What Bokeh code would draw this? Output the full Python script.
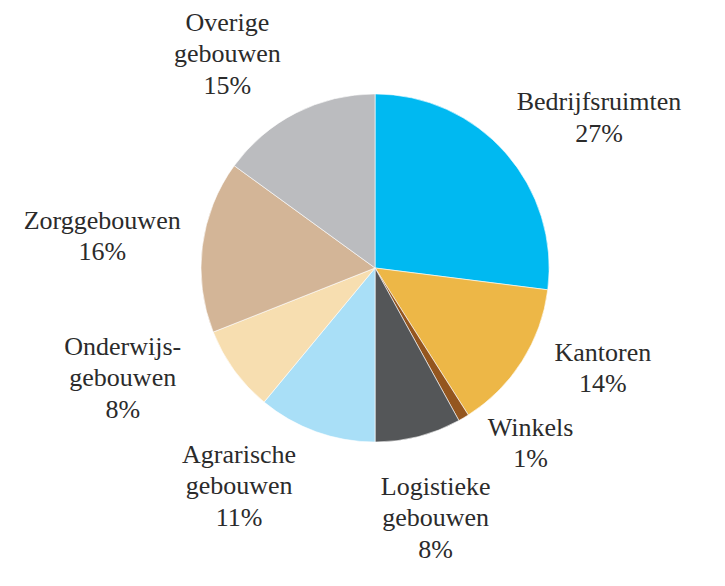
import math
from bokeh.plotting import figure
from bokeh.models import ColumnDataSource, Range1d
from bokeh.core.properties import value
from bokeh.embed import file_html
from bokeh.resources import INLINE

categories = ["Bedrijfsruimten", "Kantoren", "Winkels", "Logistieke\ngebouwen",
              "Agrarische\ngebouwen", "Onderwijs-\ngebouwen", "Zorggebouwen", "Overige\ngebouwen"]
shares = [27, 14, 1, 8, 11, 8, 16, 15]
colors = ["#00B9F1", "#EDB747", "#94561F", "#545658",
          "#A9DFF7", "#F7DEB0", "#D3B597", "#BBBCBF"]

# layout: label anchors (block centres) in reference-frame pixels
label_x = [612, 616, 542, 445, 244, 125, 104, 232]
label_y = [120, 378, 455, 532, 499, 388, 242, 55]
LINE = 32.5

# layout: reference frame, pie centre and radius
FW, FH = 725, 586
CX, CY, R = 383, 275, 178
W, H = 709, 570

total = sum(shares)
starts, ends = [], []
cum = 0
for s in shares:
    starts.append(math.pi / 2 - 2 * math.pi * cum / total)
    cum += s
    ends.append(math.pi / 2 - 2 * math.pi * cum / total)

tx, ty, tt = [], [], []
for c, s, lx, ly in zip(categories, shares, label_x, label_y):
    lines = c.split("\n") + [f"{s}%"]
    n = len(lines)
    for i, ln in enumerate(lines):
        tx.append(lx)
        ty.append(-(ly + (i - (n - 1) / 2) * LINE))
        tt.append(ln)

src = ColumnDataSource(dict(start=starts, end=ends, color=colors))
lsrc = ColumnDataSource(dict(x=tx, y=ty, text=tt))

p = figure(width=W, height=H, output_backend="svg", toolbar_location=None,
           x_range=Range1d(0, FW), y_range=Range1d(-FH, 0),
           min_border=0, min_border_left=0, min_border_right=0,
           min_border_top=0, min_border_bottom=0)
p.axis.visible = False
p.grid.visible = False
p.outline_line_color = None
p.background_fill_color = "white"
p.border_fill_color = "white"

p.wedge(x=CX, y=-CY, radius=R, start_angle="start", end_angle="end",
        direction="clock", fill_color="color", line_color="white",
        line_width=0.6, source=src)

p.text(x="x", y="y", text="text", source=lsrc,
       text_font=value("Liberation Serif"), text_font_size="26px",
       text_color="#2b2b2b", text_align="center", text_baseline="middle")

open("out.html", "w").write(file_html(p, INLINE))
